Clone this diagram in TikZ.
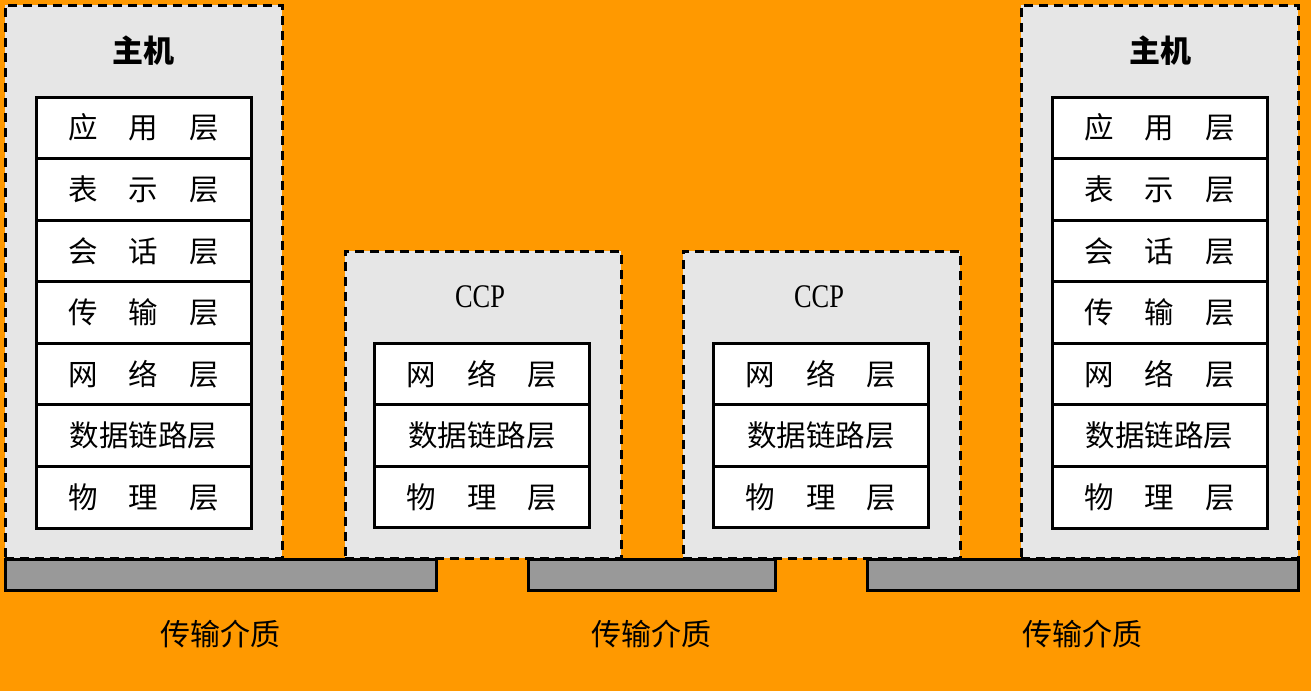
\documentclass[tikz,border=0pt]{standalone}
\usepackage{fontspec}
\setmainfont{Liberation Serif}
\newfontfamily\cjk{Noto Sans CJK SC}
\newfontfamily\narrowserif[FakeStretch=0.8]{Liberation Serif}
\definecolor{bgorange}{HTML}{FF9900}
\definecolor{boxgray}{HTML}{E6E6E6}
\definecolor{bargray}{HTML}{999999}
\newcommand{\spacedlayer}[3]{#1\hspace{1.05em}#2\hspace{1.05em}#3}
\begin{document}
\begin{tikzpicture}[x=1pt,y=-1pt,
  outerbox/.style={draw=black, fill=boxgray, line width=3pt, dash pattern=on 9pt off 6pt, inner sep=0pt},
  stackbox/.style={draw=black, line width=3pt, fill=white, minimum width=215pt, minimum height=61.6pt, inner sep=0pt, font=\cjk\fontsize{29.5}{30}\selectfont},
  medium/.style={draw=black, fill=bargray, line width=3pt, inner sep=0pt, minimum height=31pt},
  titlecjk/.style={font=\cjk\bfseries\fontsize{31}{32}\selectfont},
  titlelat/.style={font=\narrowserif\fontsize{33}{34}\selectfont},
  medlabel/.style={font=\cjk\fontsize{30}{32}\selectfont}]
\fill[bgorange] (0,0) rectangle (1311,691);
\useasboundingbox (0,0) rectangle (1311,691);
% outer boxes
\node[outerbox, minimum width=277pt, minimum height=553pt] (hostL) at (143.5,281.5) {};
\node[outerbox, minimum width=276pt, minimum height=307pt] (ccpA) at (483,404.5) {};
\node[outerbox, minimum width=277pt, minimum height=307pt] (ccpB) at (821.5,404.5) {};
\node[outerbox, minimum width=277pt, minimum height=553pt] (hostR) at (1159.5,281.5) {};
% titles
\node[titlecjk] (tL) at (143.5,51) {主机};
\node[titlecjk] (tR) at (1160,51) {主机};
\node[titlelat] (tA) at (480,297) {CCP};
\node[titlelat] (tB) at (819,297) {CCP};
% host stacks
\foreach \t [count=\i] in {{\spacedlayer{应}{用}{层}},{\spacedlayer{表}{示}{层}},{\spacedlayer{会}{话}{层}},{\spacedlayer{传}{输}{层}},{\spacedlayer{网}{络}{层}},{数据链路层},{\spacedlayer{物}{理}{层}}}{
  \node[stackbox] (hL\i) at (143.5,{97+30.8+(\i-1)*61.57}) {\t};
  \node[stackbox] (hR\i) at (1159.5,{97+30.8+(\i-1)*61.57}) {\t};
}
% ccp stacks
\foreach \t [count=\i] in {{\spacedlayer{网}{络}{层}},{数据链路层},{\spacedlayer{物}{理}{层}}}{
  \node[stackbox] (cA\i) at (482,{343+30.8+(\i-1)*61.67}) {\t};
  \node[stackbox] (cB\i) at (821,{343+30.8+(\i-1)*61.67}) {\t};
}
% media
\node[medium, minimum width=431pt] (m1) at (220.5,574.5) {};
\node[medium, minimum width=247pt] (m2) at (651.5,574.5) {};
\node[medium, minimum width=431pt] (m3) at (1082.5,574.5) {};
\node[medlabel] (l1) at (220.5,634) {传输介质};
\node[medlabel] (l2) at (651.5,634) {传输介质};
\node[medlabel] (l3) at (1082.5,634) {传输介质};
\end{tikzpicture}
\end{document}
